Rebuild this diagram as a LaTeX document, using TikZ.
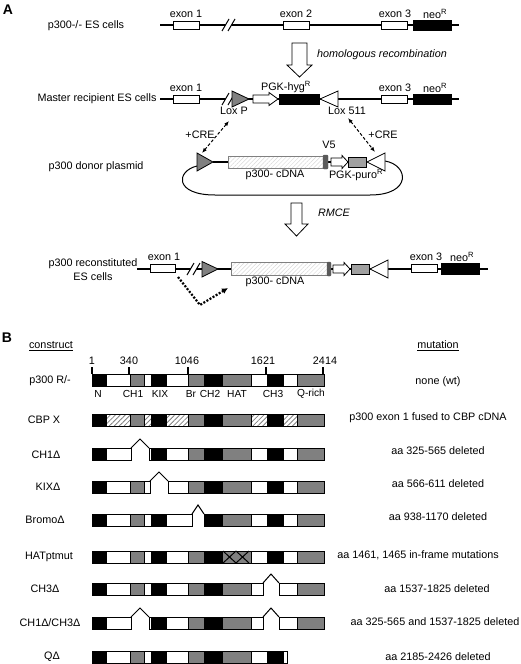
\documentclass[tikz,border=0pt]{standalone}
\usepackage{fontspec}
\setmainfont{Liberation Sans}
\usetikzlibrary{arrows.meta,patterns.meta}
\definecolor{mgray}{RGB}{128,128,128}
\definecolor{dgray}{RGB}{90,90,90}

\newcommand{\genebreak}[2]{%
  \fill[white] (#1-7,#2+6) -- (#1,#2-6) -- (#1+6,#2-6) -- (#1-1,#2+6) -- cycle;
  \draw[line width=1pt] (#1-7,#2+6) -- (#1,#2-6) (#1-1,#2+6) -- (#1+6,#2-6);}
\newcommand{\segrow}[2]{%
  \foreach \a/\b/\c in {#2} \draw[seg, \c] (\a,#1-6) rectangle (\b,#1+6);}
\newcommand{\caret}[3]{\draw[line width=1pt] (#2,#1-6) -- ({(#2+#3)/2},#1-15) -- (#3,#1-6);}

\begin{document}
\begin{tikzpicture}[x=1pt, y=-1pt, font=\fontsize{10.8}{14}\selectfont,
    every node/.style={inner sep=0pt},
    gene/.style={line width=1.4pt},
    exon/.style={rectangle, draw, fill=white, line width=.8pt, minimum width=26pt, minimum height=8pt},
    neo/.style={rectangle, draw, fill=black, minimum width=38pt, minimum height=10pt},
    blockarrow/.style={draw, fill=white, line width=.8pt},
    seg/.style={draw, line width=.8pt},
    bk/.style={fill=black}, wh/.style={fill=white}, gr/.style={fill=mgray},
    ht/.style={pattern={Lines[angle=45,distance=3.5pt,line width=.8pt]}, pattern color=mgray},
    cdna/.style={draw=mgray, line width=.8pt, pattern={Lines[angle=45,distance=3pt,line width=.5pt]}, pattern color=black!15},
    cre/.style={{Latex[length=5pt,width=4pt]}-{Latex[length=5pt,width=4pt]}, dash pattern=on 3pt off 2pt, line width=1pt}]
    \useasboundingbox (0,0) rectangle (520,664);

    \node[font=\fontsize{14}{16}\bfseries\selectfont] (A) at (8,10) {A};
    \node[font=\fontsize{14}{16}\bfseries\selectfont] (B) at (7,338) {B};

    % p300-/- ES cells
    \node (r1lab) at (86,26) {p300-/- ES cells};
    \coordinate (r1s) at (160,25);
    \coordinate (r1e) at (459,25);
    \draw[gene] (r1s) -- (r1e);
    \genebreak{229}{25}
    \node[exon] (r1x1) at (186,25) {};
    \node[exon] (r1x2) at (296,25) {};
    \node[exon] (r1x3) at (394,25) {};
    \node[neo] (r1neo) at (432,25) {};
    \node (r1x1lab) at (186,14) {exon 1};
    \node (r1x2lab) at (296,14) {exon 2};
    \node (r1x3lab) at (395,14) {exon 3};
    \node (r1neolab) at (435,14) {neo\textsuperscript{R}};

    \draw[blockarrow] (292,43) -- (307,43) -- (307,65) -- (312,65) -- (299.5,77) -- (287,65) -- (292,65) -- cycle;
    \node (homrec) at (382,55) {\itshape homologous recombination};

    % Master recipient ES cells
    \node (r2lab) at (97,99) {Master recipient ES cells};
    \coordinate (r2s) at (160,99);
    \coordinate (r2e) at (459,99);
    \draw[gene] (r2s) -- (r2e);
    \genebreak{229}{99}
    \node[exon] (r2x1) at (186,99) {};
    \draw[fill=mgray, line width=.8pt] (232,91) -- (249,99) -- (232,107) -- cycle;
    \draw[blockarrow] (253,95) -- (269,95) -- (269,92.5) -- (278,99) -- (269,105.5) -- (269,103) -- (253,103) -- cycle;
    \draw[fill=black] (279,94) rectangle (319,104);
    \draw[fill=white, line width=.8pt] (338,91) -- (320,99) -- (338,107) -- cycle;
    \node[exon] (r2x3) at (394,99) {};
    \node[neo] (r2neo) at (432,99) {};
    \node (r2x1lab) at (186,88) {exon 1};
    \node (pgkhyg) at (286,87) {PGK-hyg\textsuperscript{R}};
    \node (loxp) at (234,111) {Lox P};
    \node (lox511) at (347,111) {Lox 511};
    \node (r2x3lab) at (395,88) {exon 3};
    \node (r2neolab) at (435,88) {neo\textsuperscript{R}};

    % p300 donor plasmid
    \node (r3lab) at (96,167) {p300 donor plasmid};
    \draw[line width=1pt] (197,166) .. controls (176,171) and (174,195) .. (215,195) -- (370,195) .. controls (412,195) and (409,165) .. (385,161);
    \draw[gene] (213,162) -- (331,162);
    \draw[fill=mgray, line width=.8pt] (197,153) -- (213,162) -- (197,171) -- cycle;
    \draw[cdna, fill=white] (228,156) rectangle (323,168);
    \draw[cdna] (228,156) rectangle (323,168);
    \draw[fill=dgray, draw=dgray, rounded corners=1pt] (323,155) rectangle (328,169);
    \draw[blockarrow] (331,158) -- (342,158) -- (342,155.5) -- (348,162) -- (342,168.5) -- (342,166) -- (331,166) -- cycle;
    \draw[fill=mgray!75, line width=.8pt] (348,157) rectangle (366,167);
    \draw[fill=white, line width=.8pt] (385,153) -- (367,162) -- (385,171) -- cycle;
    \node (v5) at (329,145) {V5};
    \node (r3cdna) at (275,175) {p300- cDNA};
    \node (pgkpuro) at (356,175) {PGK-puro\textsuperscript{R}};

    \coordinate (creA1) at (229,121);
    \coordinate (creA2) at (202,153);
    \coordinate (creB1) at (348,118);
    \coordinate (creB2) at (375,152);
    \draw[cre] (creA1) -- (creA2);
    \draw[cre] (creB1) -- (creB2);
    \node (creAlab) at (200,135) {+CRE};
    \node (creBlab) at (383,135) {+CRE};

    \draw[blockarrow] (291,203) -- (302,203) -- (302,224) -- (308,224) -- (296.5,236) -- (285,224) -- (291,224) -- cycle;
    \node (rmce) at (334,213) {\itshape RMCE};

    % p300 reconstituted ES cells
    \node[align=center] (r4lab) at (93,270) {p300 reconstituted\\ES cells};
    \coordinate (r4s) at (137,269);
    \coordinate (r4e) at (488,269);
    \draw[gene] (r4s) -- (r4e);
    \genebreak{194}{269}
    \node[exon, minimum width=25pt] (r4x1) at (162.5,268.5) {};
    \draw[fill=mgray, line width=.8pt] (202,261.5) -- (218,269) -- (202,277) -- cycle;
    \draw[cdna, fill=white] (231,262.5) rectangle (328,275.5);
    \draw[cdna] (231,262.5) rectangle (328,275.5);
    \draw[fill=dgray, draw=dgray, rounded corners=1pt] (327,262) rectangle (331,276);
    \draw[blockarrow] (333,265) -- (344,265) -- (344,262.5) -- (350,269) -- (344,275.5) -- (344,273) -- (333,273) -- cycle;
    \draw[fill=mgray!75, line width=.8pt] (351,264) rectangle (369,274);
    \draw[fill=white, line width=.8pt] (388,260) -- (370,269) -- (388,278) -- cycle;
    \node[exon] (r4x3) at (424,268) {};
    \node[neo, minimum height=11pt] (r4neo) at (460,268.5) {};
    \node (r4x1lab) at (164,257) {exon 1};
    \node (r4cdna) at (275,282) {p300- cDNA};
    \node (r4x3lab) at (426,257) {exon 3};
    \node (r4neolab) at (462,257) {neo\textsuperscript{R}};
    \coordinate (spl1) at (178,277);
    \coordinate (spl2) at (200,305);
    \coordinate (spl3) at (228,288);
    \draw[dash pattern=on 2pt off 1.6pt, line width=2.2pt, -{Latex[length=6pt,width=6pt]}] (spl1) -- (spl2) -- (spl3);

    % constructs
    \node (construct) at (51,346) {\underline{construct}};
    \node (mutation) at (438,346) {\underline{mutation}};
    \foreach \x in {92, 129, 188, 266, 323}
      \draw[line width=1.6pt] (\x,367) -- (\x,374);
    \node (n1) at (92,361) {1};
    \node (n340) at (129,361) {340};
    \node (n1046) at (187,361) {1046};
    \node (n1621) at (263,361) {1621};
    \node (n2414) at (325,361) {2414};

    \node (wtlab) at (50,381) {p300 R/-};
    \segrow{380.5}{92/106/bk, 106/130/wh, 130/144/gr, 144/151/wh, 151/166/bk, 166/188/wh, 188/204/gr, 204/222/bk, 222/251/gr, 251/267/wh, 267/283/bk, 283/297/wh, 297/324/gr}
    \foreach \x/\t in {98/N, 133/CH1, 160/KIX, 191/Br, 210/CH2, 237/HAT, 273/CH3, 311/Q-rich}
      \node[font=\fontsize{10.2}{12}\selectfont] at (\x,394) {\t};
    \node (wtmut) at (438,382) {none (wt)};

    \node (cbplab) at (44,420) {CBP X};
    \segrow{420}{92/106/bk, 106/130/ht, 130/144/gr, 144/151/ht, 151/166/bk, 166/188/ht, 188/204/gr, 204/222/bk, 222/251/gr, 251/267/ht, 267/283/bk, 283/297/ht, 297/324/gr}
    \node (cbpmut) at (428,418) {p300 exon 1 fused to CBP cDNA};

    \node (ch1lab) at (46,455) {CH1Δ};
    \segrow{454}{92/106/bk, 106/131/wh, 149/151/wh, 151/166/bk, 166/188/wh, 188/204/gr, 204/222/bk, 222/251/gr, 251/267/wh, 267/283/bk, 283/297/wh, 297/324/gr}
    \caret{454}{131}{149}
    \node (ch1mut) at (438,451) {aa 325-565 deleted};

    \node (kixlab) at (48,487) {KIXΔ};
    \segrow{487}{92/106/bk, 106/130/wh, 130/144/gr, 144/150/wh, 168/188/wh, 188/204/gr, 204/222/bk, 222/251/gr, 251/267/wh, 267/283/bk, 283/297/wh, 297/324/gr}
    \caret{487}{150}{168}
    \node (kixmut) at (438,484) {aa 566-611 deleted};

    \node (brlab) at (45,520) {BromoΔ};
    \segrow{520}{92/106/bk, 106/130/wh, 130/144/gr, 144/151/wh, 151/166/bk, 166/192/wh, 204/222/bk, 222/251/gr, 251/267/wh, 267/283/bk, 283/297/wh, 297/324/gr}
    \caret{520}{192}{204}
    \node (brmut) at (438,517) {aa 938-1170 deleted};

    \node (hatlab) at (49,557) {HATptmut};
    \segrow{557}{92/106/bk, 106/130/wh, 130/144/gr, 144/151/wh, 151/166/bk, 166/188/wh, 188/204/gr, 204/222/bk, 222/251/gr, 251/267/wh, 267/283/bk, 283/297/wh, 297/324/gr}
    \draw[line width=1pt] (223,551) -- (236,563) (223,563) -- (236,551) (236,551) -- (249,563) (236,563) -- (249,551);
    \node (hatmut) at (418,555) {aa 1461, 1465 in-frame mutations};

    \node (ch3lab) at (45,589) {CH3Δ};
    \segrow{589}{92/106/bk, 106/130/wh, 130/144/gr, 144/151/wh, 151/166/bk, 166/188/wh, 188/204/gr, 204/222/bk, 222/251/gr, 251/263/wh, 279/297/wh, 297/324/gr}
    \caret{589}{263}{279}
    \node (ch3mut) at (437,589) {aa 1537-1825 deleted};

    \node (dbllab) at (50,623) {CH1Δ/CH3Δ};
    \segrow{623}{92/106/bk, 106/131/wh, 149/151/wh, 151/166/bk, 166/188/wh, 188/204/gr, 204/222/bk, 222/251/gr, 251/263/wh, 279/297/wh, 297/324/gr}
    \caret{623}{131}{149}
    \caret{623}{263}{279}
    \node (dblmut) at (435,622) {aa 325-565 and 1537-1825 deleted};

    \node (qlab) at (52,657) {QΔ};
    \segrow{657}{92/106/bk, 106/130/wh, 130/144/gr, 144/151/wh, 151/166/bk, 166/188/wh, 188/204/gr, 204/222/bk, 222/251/gr, 251/267/wh, 267/283/bk, 283/287/wh}
    \node (qmut) at (438,657) {aa 2185-2426 deleted};
\end{tikzpicture}
\end{document}
